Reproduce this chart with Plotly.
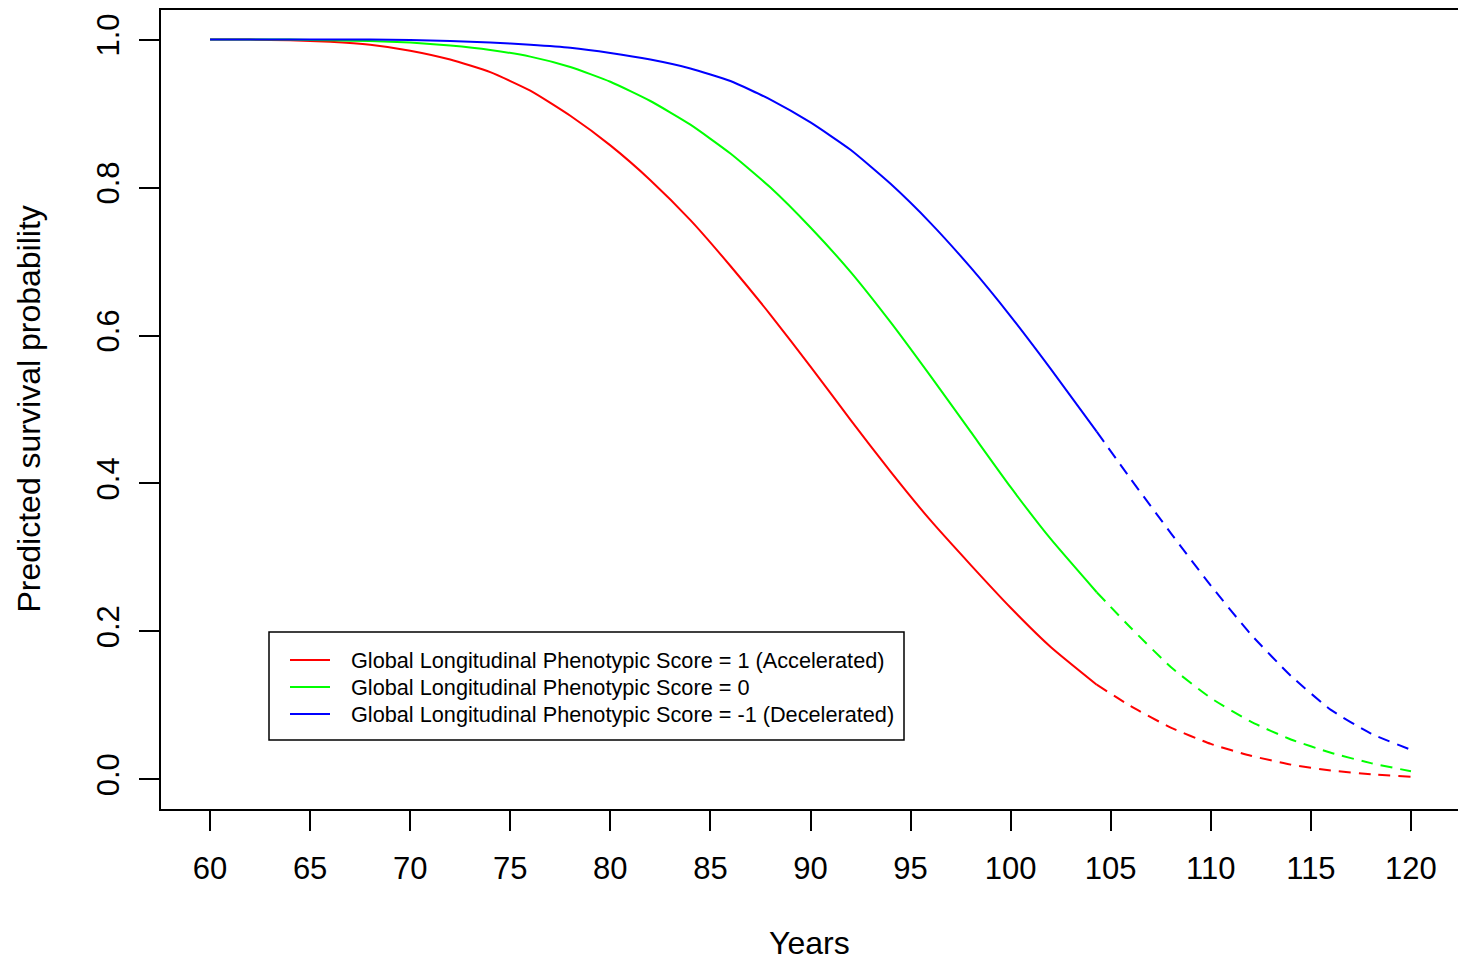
import plotly.graph_objects as go

years = [60, 62, 64, 66, 68, 70, 72, 74, 76, 78, 80, 82, 84, 86, 88, 90, 92, 94, 96, 98,
         100, 102, 104.3, 106, 108, 110, 112, 114, 116, 118, 120]
split_year = 104.3

surv_accel = [1.000, 1.000, 0.999, 0.997, 0.993, 0.985, 0.973, 0.956, 0.931, 0.897,
              0.857, 0.810, 0.756, 0.694, 0.628, 0.558, 0.486, 0.416, 0.350, 0.290,
              0.232, 0.179, 0.128, 0.099, 0.070, 0.048, 0.032, 0.020, 0.012, 0.007,
              0.0035]
surv_zero = [1.000, 1.000, 1.000, 0.999, 0.998, 0.996, 0.992, 0.986, 0.977, 0.963,
             0.943, 0.917, 0.885, 0.846, 0.800, 0.746, 0.686, 0.618, 0.545, 0.470,
             0.395, 0.325, 0.253, 0.205, 0.152, 0.110, 0.078, 0.054, 0.036, 0.022,
             0.011]
surv_decel = [1.000, 1.000, 1.000, 1.000, 1.000, 0.9995, 0.998, 0.996, 0.993, 0.989,
              0.982, 0.973, 0.961, 0.944, 0.919, 0.888, 0.851, 0.805, 0.752, 0.692,
              0.626, 0.555, 0.470, 0.406, 0.333, 0.262, 0.196, 0.140, 0.094, 0.062,
              0.040]

series_names = ["Global Longitudinal Phenotypic Score = 1 (Accelerated)",
                "Global Longitudinal Phenotypic Score = 0",
                "Global Longitudinal Phenotypic Score = -1 (Decelerated)"]
series_values = [surv_accel, surv_zero, surv_decel]
series_colors = ["#FF0000", "#00FF00", "#0000FF"]

x_ticks = list(range(60, 121, 5))
y_ticks = [0.0, 0.2, 0.4, 0.6, 0.8, 1.0]

FONT = "Liberation Sans, Arial, sans-serif"

# plot-area geometry in pixels (for paper-coordinate conversion of legend decorations)
L, T, W, H = 161, 10, 1297, 799


def px(x):
    return (x - L) / W


def py(y):
    return (T + H - y) / H


fig = go.Figure()
k = years.index(split_year)
for name, vals, col in zip(series_names, series_values, series_colors):
    fig.add_trace(go.Scatter(x=years[:k + 1], y=vals[:k + 1], mode="lines", name=name,
                             line=dict(color=col, width=2, shape="spline", smoothing=0.5),
                             showlegend=False))
for name, vals, col in zip(series_names, series_values, series_colors):
    fig.add_trace(go.Scatter(x=years[k:], y=vals[k:], mode="lines", name=name,
                             line=dict(color=col, width=2, dash="12px,8px", shape="spline", smoothing=0.5),
                             showlegend=False))

# legend box (R-style)
shapes = [dict(type="rect", xref="paper", yref="paper", x0=px(269), x1=px(904), y0=py(632), y1=py(740),
               line=dict(color="black", width=1.5), fillcolor="rgba(0,0,0,0)", layer="above")]
annotations = []
row_y = [660, 687, 714]
for name, col, ry in zip(series_names, series_colors, row_y):
    shapes.append(dict(type="line", xref="paper", yref="paper", x0=px(290), x1=px(330), y0=py(ry), y1=py(ry),
                       line=dict(color=col, width=2)))
    annotations.append(dict(text=name, xref="paper", yref="paper", x=px(349), y=py(ry),
                            xanchor="left", yanchor="middle", showarrow=False,
                            font=dict(size=21.7, family=FONT, color="black")))

annotations += [
    dict(text="Years", xref="paper", yref="paper", x=0.5, y=(809 - 943) / 799,
         xanchor="center", yanchor="middle", showarrow=False,
         font=dict(size=32, family=FONT, color="black")),
    dict(text="Predicted survival probability", xref="paper", yref="paper",
         x=(28 - 161) / 1297, y=0.5, xanchor="center", yanchor="middle",
         textangle=-90, showarrow=False, font=dict(size=32, family=FONT, color="black")),
]

fig.update_layout(
    width=1458, height=961,
    margin=dict(l=161, r=0, t=10, b=152),
    paper_bgcolor="white", plot_bgcolor="white",
    font=dict(family=FONT, color="black"),
    showlegend=False,
    xaxis=dict(range=[57.55, 122.35], tickvals=x_ticks, ticktext=[str(v) for v in x_ticks],
               ticks="outside", ticklen=20, tickwidth=2, tickcolor="black",
               showline=True, linecolor="black", linewidth=2, mirror=True,
               showgrid=False, zeroline=False, tickfont=dict(size=31, family=FONT),
               ticklabelstandoff=11),
    yaxis=dict(range=[-0.04, 1.04], tickvals=y_ticks, ticktext=["%.1f" % v for v in y_ticks],
               ticks="outside", ticklen=20, tickwidth=2, tickcolor="black",
               showline=True, linecolor="black", linewidth=2, mirror=False,
               showgrid=False, zeroline=False, tickfont=dict(size=31, family=FONT),
               tickangle=-90, ticklabelstandoff=8),
    shapes=shapes,
    annotations=annotations,
)

fig.write_html("out.html")
